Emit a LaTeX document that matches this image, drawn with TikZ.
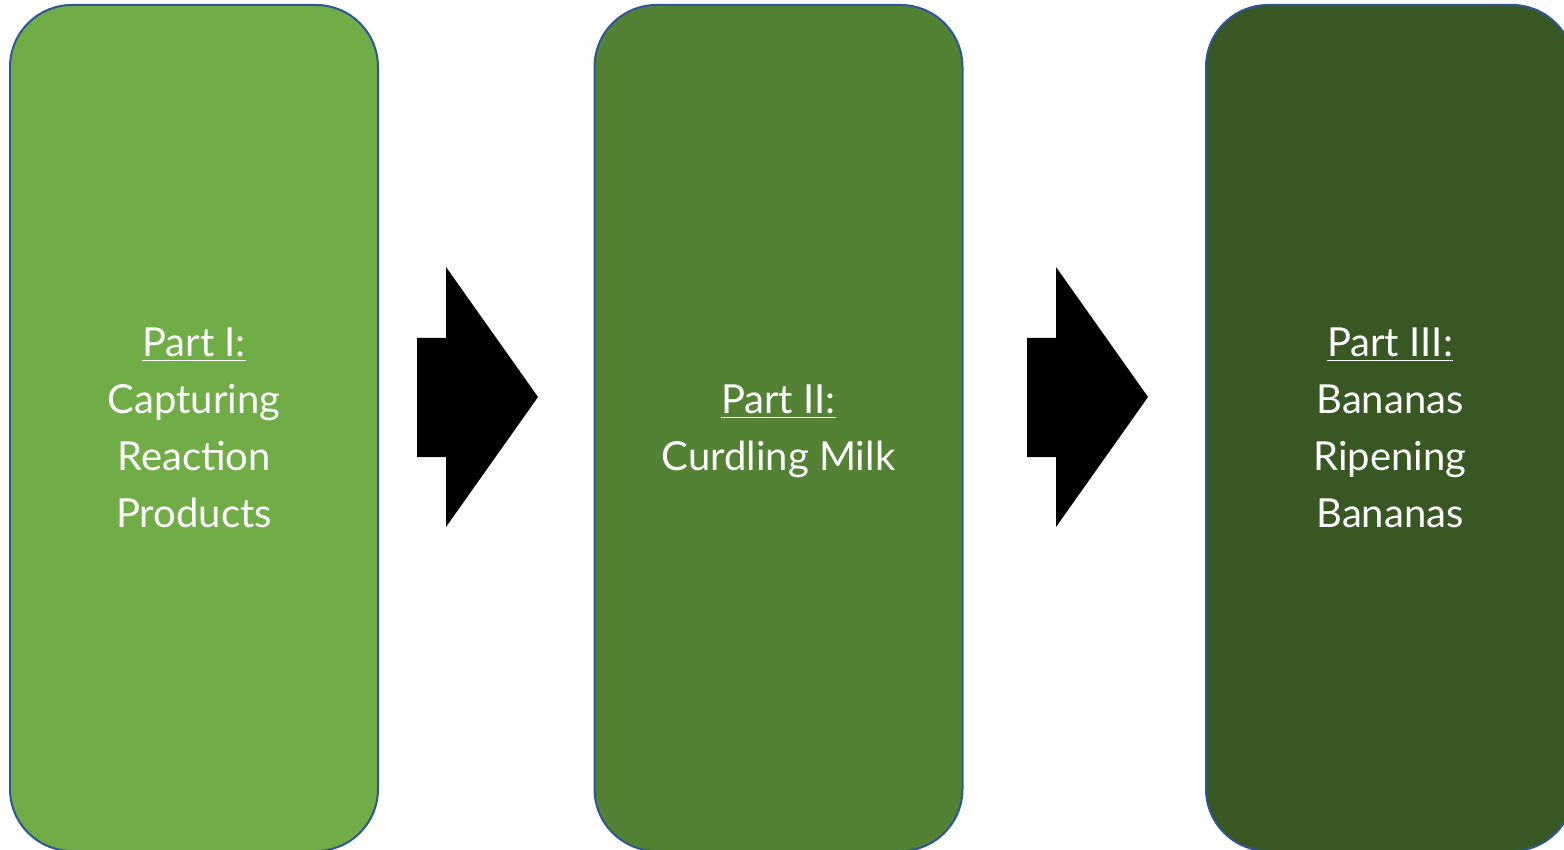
\documentclass[tikz,border=0pt]{standalone}
\usepackage{fontspec}
\setmainfont{Lato}
\usepackage{tikz}

\definecolor{edgeblue}{HTML}{2F5597}
\definecolor{greenA}{HTML}{70AD47}
\definecolor{greenB}{HTML}{548235}
\definecolor{greenC}{HTML}{385723}

\begin{document}
\begin{tikzpicture}[x=0.5pt, y=-0.5pt]
  \tikzset{partbox/.style={draw=edgeblue, line width=1pt, rounded corners=31pt,
      minimum width=184pt, minimum height=423pt, inner sep=0pt, text depth=0pt,
      align=center, text=white, font=\fontsize{20}{28.5}\selectfont}}
  \useasboundingbox (0,0) rectangle (1564,850);
  \node [partbox, fill=greenA] (part1) at (194,428)
    {\underline{Part I:}\\Capturing\\Reaction\\Products};
  \node [partbox, fill=greenB] (part2) at (778.5,428)
    {\underline{Part II:}\\Curdling Milk};
  \node [partbox, fill=greenC] (part3) at (1390,428)
    {\underline{Part III:}\\Bananas\\Ripening\\Bananas};
  % block arrows
  \foreach \dx in {0,610}
    \fill [black, xshift=\dx*0.5pt] (417,338) -- (446,338) -- (446,267) -- (538,397)
      -- (446,527) -- (446,457) -- (417,457) -- cycle;
\end{tikzpicture}
\end{document}
